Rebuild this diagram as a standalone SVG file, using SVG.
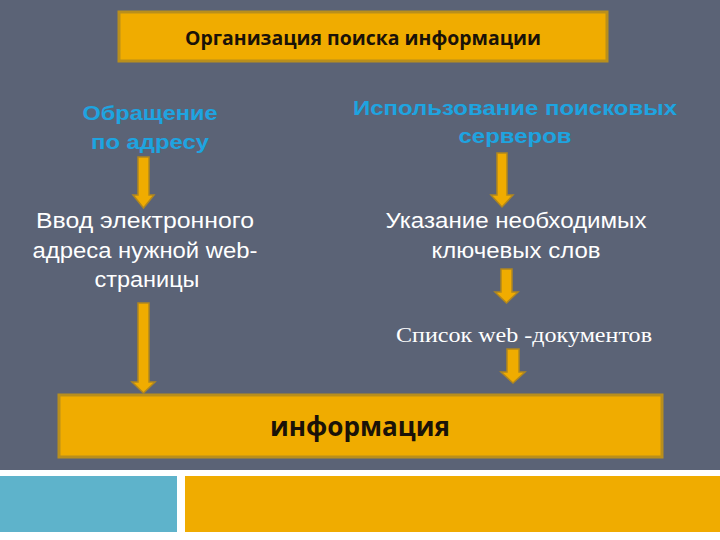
<svg xmlns="http://www.w3.org/2000/svg" width="720" height="540" viewBox="0 0 720 540">
<style>
.box{fill:#f0ac00;stroke:#b98f1c;stroke-width:3}
.arr{fill:#f0ac00;stroke:#b0871f;stroke-width:1.5;stroke-linejoin:miter}
.hdr{font-family:"Liberation Sans",Arial,sans-serif;font-weight:bold;font-size:20px;fill:#1ea4e0;text-anchor:middle}
.wt{font-family:"Liberation Sans",Arial,sans-serif;font-size:22px;fill:#ffffff;text-anchor:middle}
.sr{font-family:"Liberation Serif","Times New Roman",serif;font-size:22px;fill:#ffffff;text-anchor:middle}
.bt{font-family:"Open Sans","Noto Sans",sans-serif;font-weight:bold;fill:#1a1208;text-anchor:middle}
</style>
<rect x="0" y="0" width="720" height="540" fill="#ffffff"/>
<rect x="0" y="0" width="720" height="470" fill="#5b6376"/>
<rect x="0" y="476" width="177" height="56" fill="#5eb3cb"/>
<rect x="185" y="476" width="535" height="56" fill="#f0ac00"/>

<g id="title">
<rect class="box" x="119" y="12" width="488" height="49"/>
<text class="bt" x="363" y="45" font-size="19" textLength="356" lengthAdjust="spacingAndGlyphs">Организация поиска информации</text>
</g>

<g id="left-header">
<text class="hdr" x="150" y="120" textLength="135" lengthAdjust="spacingAndGlyphs">Обращение</text>
<text class="hdr" x="150" y="149" textLength="118" lengthAdjust="spacingAndGlyphs">по адресу</text>
</g>

<g id="right-header">
<text class="hdr" x="515" y="115" textLength="324" lengthAdjust="spacingAndGlyphs">Использование поисковых</text>
<text class="hdr" x="515" y="143" textLength="113" lengthAdjust="spacingAndGlyphs">серверов</text>
</g>

<g id="left-step">
<text class="wt" x="145" y="228" textLength="218" lengthAdjust="spacingAndGlyphs">Ввод электронного</text>
<text class="wt" x="145" y="258" textLength="225" lengthAdjust="spacingAndGlyphs">адреса нужной web-</text>
<text class="wt" x="147" y="287" textLength="105" lengthAdjust="spacingAndGlyphs">страницы</text>
</g>

<g id="right-step1">
<text class="wt" x="516" y="228" textLength="261" lengthAdjust="spacingAndGlyphs">Указание необходимых</text>
<text class="wt" x="516" y="258" textLength="169" lengthAdjust="spacingAndGlyphs">ключевых слов</text>
</g>

<g id="right-step2">
<text class="sr" x="524" y="342" textLength="256" lengthAdjust="spacingAndGlyphs">Список web -документов</text>
</g>

<g id="info">
<rect class="box" x="59" y="395" width="603" height="62"/>
<text class="bt" x="360" y="436" font-size="26" textLength="180" lengthAdjust="spacingAndGlyphs">информация</text>
</g>

<g id="connectors">
<polygon class="arr" points="138,157 149,157 149,195 154,195 143.5,208 133,195 138,195"/>
<polygon class="arr" points="497,153 507,153 507,195 513,195 502,207 491,195 497,195"/>
<polygon class="arr" points="501,269 512,269 512,292 518,292 506.5,303 495,292 501,292"/>
<polygon class="arr" points="507,349 519,349 519,372 525,372 513,383 501,372 507,372"/>
<polygon class="arr" points="138,303 149,303 149,382 155,382 143.5,393 132,382 138,382"/>
</g>
</svg>
